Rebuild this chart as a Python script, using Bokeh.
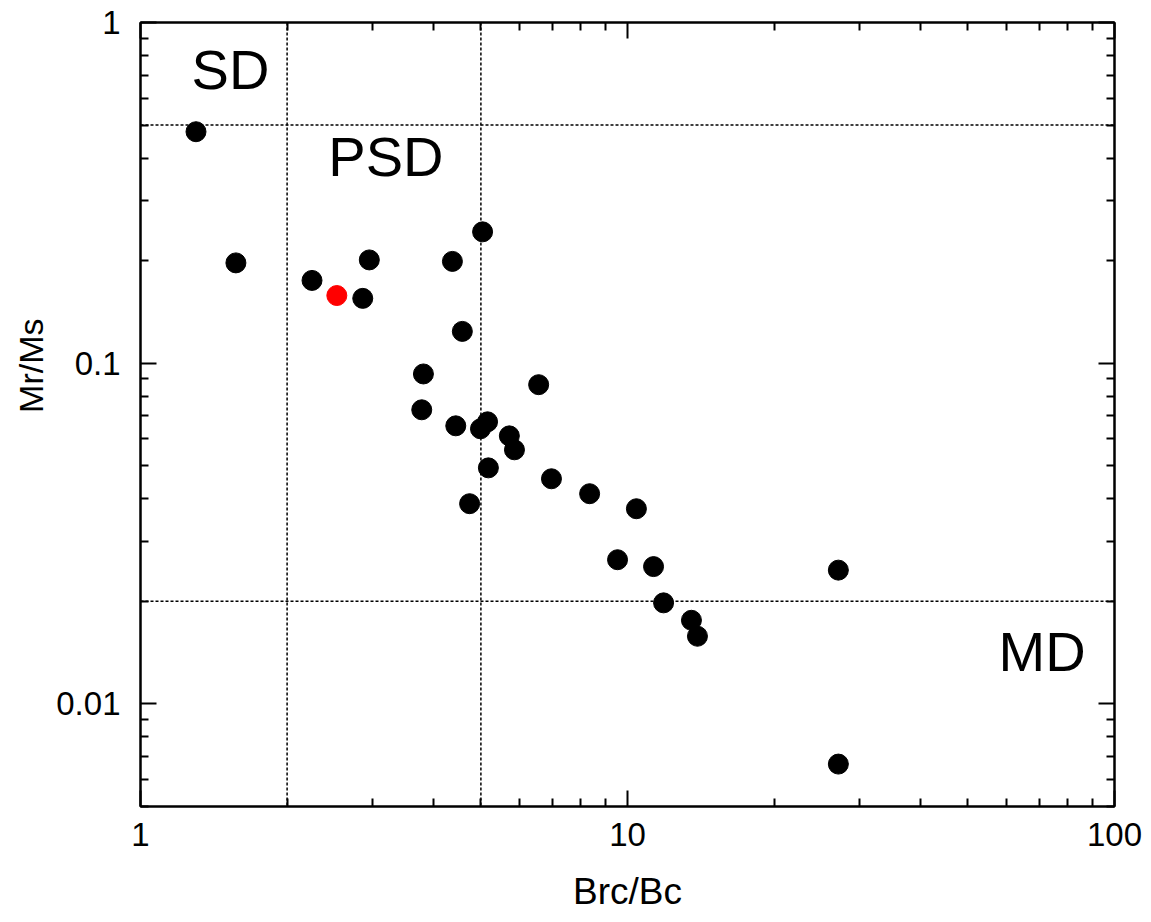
from bokeh.plotting import figure
from bokeh.models import Range1d, FixedTicker, LogAxis, Span, Label, Title, CustomJSTickFormatter
from bokeh.embed import file_html
from bokeh.resources import INLINE

# ---- data (Brc/Bc, Mr/Ms) ----
brc_bc = [1.30, 1.57, 2.25, 2.86, 2.95, 4.37, 5.04, 4.58, 3.81, 6.57,
          3.78, 4.44, 4.99, 5.16, 5.72, 5.86, 5.18, 6.98, 8.36, 10.43,
          4.74, 9.54, 11.31, 11.86, 13.53, 13.92, 27.1, 27.1]
mr_ms = [0.478, 0.197, 0.175, 0.155, 0.201, 0.199, 0.243, 0.124, 0.093, 0.0865,
         0.073, 0.0655, 0.0642, 0.0673, 0.0612, 0.0557, 0.0493, 0.0458, 0.0414, 0.0374,
         0.0387, 0.0265, 0.0253, 0.0198, 0.0176, 0.0158, 0.0247, 0.00666]
red_brc_bc = [2.53]
red_mr_ms = [0.158]

# domain boundaries
x_bounds = [2, 5]
y_bounds = [0.5, 0.02]

# region labels
region_text = ["SD", "PSD", "MD"]
region_x = [1.53, 3.19, 71.0]
region_y = [0.73, 0.404, 0.0143]

x_major = [1, 10, 100]
y_major = [0.01, 0.1, 1]
x_minor = [m * d for d in (1, 10) for m in range(2, 10)]
y_minor = [m * d for d in (0.001, 0.01, 0.1) for m in range(2, 10) if m * d >= 0.005]

FONT = "Liberation Sans"

p = figure(width=1151, height=922, x_axis_type="log", y_axis_type="log",
           x_range=Range1d(1, 100), y_range=Range1d(0.005, 1),
           output_backend="svg", toolbar_location=None,
           min_border_left=140, min_border_right=37,
           min_border_top=22, min_border_bottom=116)
p.grid.visible = False
p.outline_line_color = "black"
p.outline_line_width = 2
p.background_fill_color = "white"
p.border_fill_color = "white"

label_fmt = CustomJSTickFormatter(code="return String(Number(tick.toPrecision(6)));")
blank_fmt = CustomJSTickFormatter(code="return ' ';")

def style(ax, show_labels):
    ax.axis_line_color = "black"
    ax.axis_line_width = 2
    ax.major_tick_line_width = 2
    ax.minor_tick_line_width = 2
    ax.major_tick_in = 16
    ax.major_tick_out = 0
    ax.minor_tick_in = 8
    ax.minor_tick_out = 0
    if show_labels:
        ax.formatter = label_fmt
        ax.major_label_text_font = FONT
        ax.major_label_text_font_size = "33px"
        ax.major_label_text_color = "black"
        ax.axis_label_text_font = FONT
        ax.axis_label_text_font_size = "37px"
        ax.axis_label_text_font_style = "normal"
        ax.axis_label_text_color = "black"
    else:
        ax.formatter = blank_fmt
        ax.major_label_text_font_size = "2px"
        ax.major_label_text_color = None
        ax.major_label_standoff = 0

xa = p.xaxis[0]
xa.ticker = FixedTicker(ticks=x_major, minor_ticks=x_minor)
xa.axis_label = "Brc/Bc"
style(xa, True)
xa.major_label_standoff = 16
xa.axis_label_standoff = 22

ya = p.yaxis[0]
ya.ticker = FixedTicker(ticks=y_major, minor_ticks=y_minor)
style(ya, True)
ya.major_label_standoff = 20

top = LogAxis(ticker=FixedTicker(ticks=x_major, minor_ticks=x_minor))
style(top, False)
p.add_layout(top, "above")
right = LogAxis(ticker=FixedTicker(ticks=y_major, minor_ticks=y_minor))
style(right, False)
p.add_layout(right, "right")

# y-axis title, placed at the 0.1 level like the reference (offset from top of frame)
p.add_layout(Title(text="Mr/Ms", align="right", offset=296, standoff=8,
                   text_font=FONT, text_font_size="34px", text_font_style="normal",
                   text_color="black"), "left")

for xv in x_bounds:
    p.add_layout(Span(location=xv, dimension="height", line_color="black",
                      line_width=1.5, line_dash="3 2"))
for yv in y_bounds:
    p.add_layout(Span(location=yv, dimension="width", line_color="black",
                      line_width=1.5, line_dash="3 2"))

p.scatter(brc_bc, mr_ms, size=20, color="black")
p.scatter(red_brc_bc, red_mr_ms, size=20, color="#ff0000")

for t, xv, yv in zip(region_text, region_x, region_y):
    p.add_layout(Label(x=xv, y=yv, text=t, text_font=FONT, text_font_size="56px",
                       text_align="center", text_baseline="middle", text_color="black"))

open("out.html", "w").write(file_html(p, INLINE))
